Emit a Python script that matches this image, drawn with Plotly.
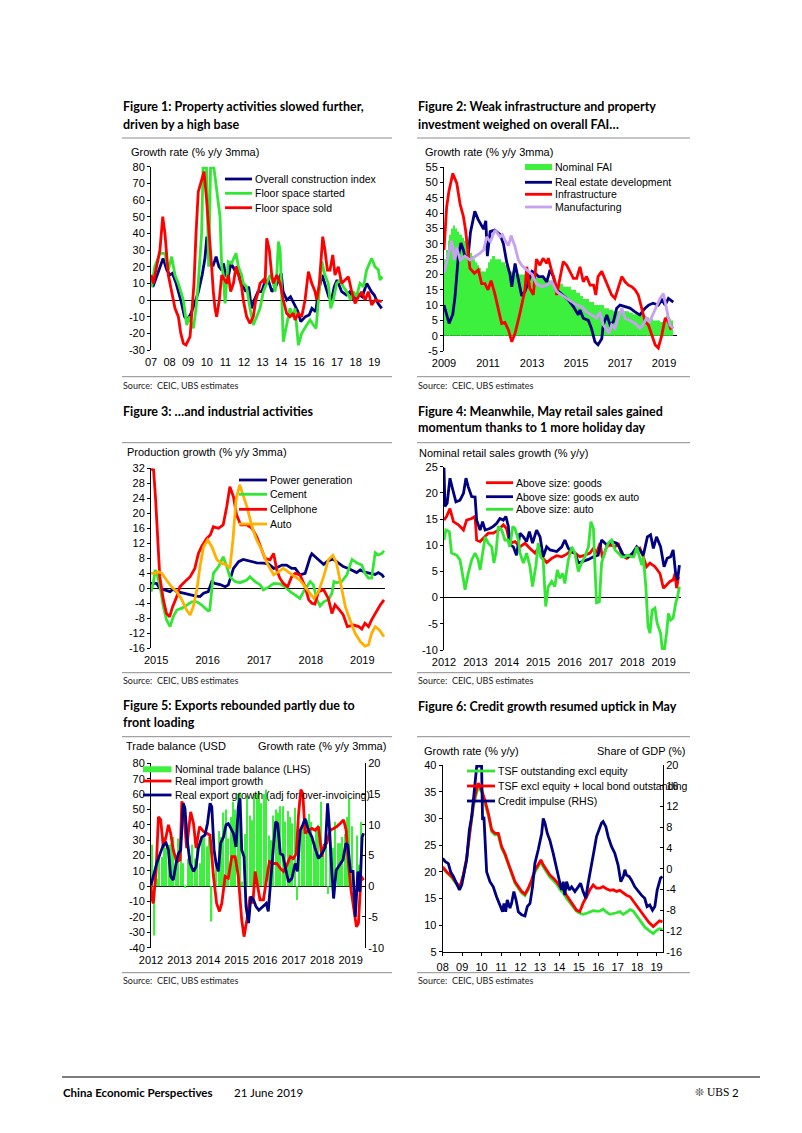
import plotly.graph_objects as go

# ============================ DATA ============================
# ---- Figure 1: property activities (% y/y 3mma) ----
f1_construction_x = [2007.0,2007.1,2007.3,2007.5,2007.65,2007.85,2008.0,2008.15,2008.35,2008.6,
    2008.8,2008.95,2009.15,2009.35,2009.55,2009.75,2009.9,2010.0,2010.1,2010.2,
    2010.35,2010.5,2010.65,2010.8,2010.9,2011.0,2011.15,2011.3,2011.5,2011.65,
    2011.8,2011.95,2012.1,2012.25,2012.4,2012.55,2012.75,2012.95,2013.1,2013.3,
    2013.5,2013.7,2013.85,2014.0,2014.1,2014.3,2014.5,2014.7,2014.9,2015.05,
    2015.3,2015.5,2015.65,2015.85,2016.0,2016.2,2016.35,2016.55,2016.7,2016.85,
    2017.0,2017.25,2017.5,2017.7,2017.9,2018.1,2018.35,2018.6,2018.85,2019.0,
    2019.2,2019.4]
f1_construction_y = [10,8,14,20,25,18,15,16,10,0,
    -10,-12,-8,-2,5,15,25,38,32,22,
    21,26,20,18,22,15,14,22,18,20,
    12,8,5,8,-5,0,5,5,10,12,
    5,8,12,16,5,0,2,-3,-7,-13,
    -10,-9,-5,-7,5,15,10,2,0,8,
    12,5,3,5,0,4,2,10,5,3,
    -2,-5]
f1_started_x = [2007.0,2007.04,2007.2,2007.48,2007.75,2007.93,2008.11,2008.29,2008.47,2008.74,
    2008.92,2009.06,2009.28,2009.42,2009.54,2009.72,2009.8,2009.98,2010.1,2010.2,
    2010.38,2010.49,2010.62,2010.71,2010.8,2010.89,2010.98,2011.15,2011.33,2011.57,
    2011.7,2011.87,2011.96,2012.14,2012.32,2012.5,2012.68,2012.86,2013.04,2013.22,
    2013.4,2013.58,2013.67,2013.76,2013.85,2013.94,2014.03,2014.11,2014.29,2014.47,
    2014.65,2014.74,2014.92,2015.1,2015.37,2015.55,2015.73,2015.87,2016.0,2016.18,
    2016.35,2016.53,2016.66,2016.8,2016.98,2017.16,2017.34,2017.52,2017.73,2017.87,
    2018.05,2018.23,2018.42,2018.59,2018.86,2019.04,2019.22,2019.31,2019.45]
f1_started_y = [10,8,20,28,28,18,26,15,10,0,
    -15,-10,-17,-5,10,40,79.5,79.5,20,79.5,
    79.5,70,60,50,20,15,-2,23,22,28,
    20,15,10,8,-5,-15,-10,-5,5,10,
    15,10,5,15,35,30,0,-25,-15,-5,
    -10,-5,-27,-20,-15,-12,-15,-17,0,23,
    15,10,-5,0,10,12,8,5,0,5,
    2,10,8,18,25,20,18,12,14]
f1_sold_x = [2007.0,2007.13,2007.3,2007.48,2007.63,2007.75,2007.93,2008.11,2008.29,2008.47,
    2008.6,2008.74,2008.88,2009.1,2009.19,2009.31,2009.42,2009.54,2009.67,2009.85,
    2009.99,2010.14,2010.26,2010.35,2010.44,2010.53,2010.67,2010.8,2010.98,2011.07,
    2011.16,2011.28,2011.43,2011.57,2011.7,2011.87,2011.96,2012.14,2012.32,2012.5,
    2012.63,2012.77,2012.86,2013.04,2013.13,2013.22,2013.36,2013.49,2013.58,2013.76,
    2013.94,2014.11,2014.29,2014.47,2014.65,2014.74,2014.92,2015.1,2015.28,2015.46,
    2015.64,2015.82,2015.91,2016.05,2016.23,2016.35,2016.48,2016.62,2016.77,2016.89,
    2017.07,2017.25,2017.43,2017.61,2017.79,2017.97,2018.15,2018.33,2018.51,2018.68,
    2018.86,2019.04,2019.4]
f1_sold_y = [15,10,20,30,50,40,15,5,-5,-10,
    -20,-26,-27,-22,-10,10,40,65,70,77,
    60,40,20,5,-5,-10,0,15,12,10,
    15,5,10,20,15,8,0,-10,-14,-10,
    0,5,10,12,10,37,30,15,10,15,
    10,0,-8,-10,-8,-12,-8,-10,0,17,
    10,5,0,10,38,30,18,18,27,15,
    20,10,12,14,5,-2,2,5,0,5,
    -3,0,-1]

# ---- Figure 2: FAI components (% y/y 3mma) ----
f2_fai_start = 2009  # monthly bars from Jan 2009 to May 2019
f2_fai = [25,28,31,33,35,36,35,34,33,33,32,31,
    30,28,27,26,25,24,23,22,21,21,21,22,
    24,25,26,26,25,25,25,24,24,23,23,22,
    21,21,20,20,20,20,20,20,20,20,20,20,
    20,20,19,19,19,19,19,18,18,18,18,18,
    17,17,17,17,17,16,16,16,16,15,15,15,
    14,14,13,13,12,12,12,11,11,11,10,10,
    10,10,10,9,9,9,8.5,8.5,8,8,8,8,
    8,8,8,8,8,7.5,7.5,7,7,7,7,7,
    6.5,6.5,6,6,5.5,5.5,5,5,5,5,4.5,4.5,
    6,6.5,6,5.5,5]
f2_realestate_x = [2009.0,2009.1,2009.23,2009.4,2009.5,2009.65,2009.77,2009.88,2009.95,2010.1,
    2010.2,2010.4,2010.55,2010.8,2010.9,2010.97,2011.1,2011.3,2011.55,2011.7,
    2011.85,2012.0,2012.08,2012.23,2012.38,2012.53,2012.68,2012.83,2013.0,2013.14,
    2013.3,2013.5,2013.67,2013.82,2013.97,2014.12,2014.42,2014.65,2014.88,2015.1,
    2015.18,2015.33,2015.56,2015.7,2015.86,2016.0,2016.17,2016.24,2016.4,2016.55,
    2016.7,2016.85,2017.0,2017.23,2017.45,2017.68,2017.9,2018.14,2018.3,2018.5,
    2018.74,2018.9,2019.05,2019.2,2019.42]
f2_realestate_y = [10,7,4,7,12.7,25.8,30.3,28,26,26,
    33.6,40.6,38,34.8,37.5,26,34,34.5,33,30,
    24,20,16,23.6,18,13,14.4,17.6,21,20.4,
    19.3,19.3,17.6,21.5,19.3,15,13.3,11.7,9.5,6.8,
    8.4,5.7,5,2.4,-2,-3,-1,3.5,6.8,3.5,
    4.6,9,10,9.5,9,7.8,6.8,9,10,10.6,
    10,11.7,10,12.2,11]
f2_infra_x = [2009.0,2009.12,2009.22,2009.4,2009.58,2009.73,2009.88,2009.98,2010.08,2010.18,
    2010.38,2010.56,2010.71,2010.86,2011.0,2011.14,2011.3,2011.47,2011.62,2011.77,
    2011.93,2012.08,2012.23,2012.45,2012.68,2012.76,2012.9,2013.06,2013.2,2013.36,
    2013.5,2013.67,2013.74,2013.9,2014.05,2014.12,2014.27,2014.42,2014.58,2014.73,
    2014.88,2015.03,2015.18,2015.33,2015.48,2015.64,2015.8,2015.9,2016.0,2016.17,
    2016.3,2016.47,2016.62,2016.77,2016.92,2017.08,2017.23,2017.38,2017.53,2017.68,
    2017.83,2017.98,2018.14,2018.29,2018.44,2018.6,2018.74,2018.9,2019.05,2019.2,
    2019.3,2019.42]
f2_infra_y = [28,42,47,53,49.8,43,39,34.5,28,22,
    20.4,21.5,17,17,15,18,14,8.4,4,4.3,
    1.9,-2,0.8,7.3,15,22.5,15.5,13.3,25,23,
    25.3,23.6,25.3,21,17.6,13.3,19.3,24.2,23,21,
    18.7,18.7,22.5,17.6,19.3,16.5,16.5,13.3,19.3,21,
    18.7,15.5,13.3,12.2,15.5,19.3,17.6,16.5,16,15,
    13.3,9,4.6,3.5,0.2,-3,-4,0.2,5.7,4.6,
    2.4,3]
f2_manuf_x = [2009.0,2009.2,2009.35,2009.47,2009.58,2009.73,2009.95,2010.18,2010.41,2010.64,
    2010.8,2010.94,2011.1,2011.32,2011.55,2011.65,2011.77,2011.93,2012.05,2012.23,
    2012.38,2012.53,2012.76,2013.0,2013.2,2013.44,2013.67,2013.9,2014.12,2014.35,
    2014.58,2014.8,2015.03,2015.26,2015.48,2015.7,2015.94,2016.09,2016.24,2016.4,
    2016.5,2016.62,2016.77,2016.92,2017.08,2017.23,2017.45,2017.68,2017.9,2018.05,
    2018.2,2018.35,2018.6,2018.82,2018.97,2019.12,2019.27,2019.42]
f2_manuf_y = [20.4,27,31,24.7,28.8,24.7,26,24.7,25.8,27,
    28,32.3,30.6,34.5,32.3,33,31.2,29.4,32.7,29,
    24.7,23,21.5,20,17,16,16.5,17.6,14.4,13.3,
    12.2,11,10,9.5,7.8,6.8,5.7,7.8,3.5,1.9,
    0.8,3.5,2.4,5.7,9,5.7,5,4,2.4,3.5,
    5.7,4.6,8.4,12.2,13.8,9,3.5,2.4]

# ---- Figure 3: industrial production (% y/y 3mma) ----
f3_power_x = [2014.9,2015.01,2015.07,2015.17,2015.27,2015.33,2015.4,2015.53,2015.66,2015.75,
    2015.85,2015.92,2016.01,2016.08,2016.14,2016.24,2016.34,2016.4,2016.5,2016.6,
    2016.69,2016.82,2016.95,2017.08,2017.18,2017.28,2017.34,2017.44,2017.53,2017.63,
    2017.7,2017.79,2017.89,2017.99,2018.02,2018.15,2018.25,2018.34,2018.43,2018.54,
    2018.63,2018.73,2018.8,2018.89,2018.96,2019.05,2019.15,2019.25,2019.31,2019.38,2019.42]
f3_power_y = [1.3,1.3,0,-0.4,-0.9,-0.2,-0.9,-1.3,-1.8,-2,
    -2.2,-1.3,-0.9,1.8,1.3,1,0.4,0.9,5.3,7.1,
    7.7,7.3,6.8,6.7,6.5,5.3,5.5,6.2,6.2,5.3,
    5.3,3.6,4,8.4,9.2,7.6,6.4,7.4,7.8,6.7,
    5.8,5.3,4.9,4.2,4.9,4.3,4,3.7,4.2,3.6,2.9]
f3_cement_x = [2014.9,2014.95,2014.98,2015.02,2015.07,2015.14,2015.2,2015.27,2015.33,2015.4,
    2015.5,2015.59,2015.69,2015.79,2015.88,2015.95,2016.01,2016.04,2016.11,2016.21,
    2016.3,2016.37,2016.43,2016.53,2016.63,2016.76,2016.82,2016.92,2017.02,2017.08,
    2017.18,2017.28,2017.4,2017.5,2017.6,2017.7,2017.79,2017.86,2017.92,2017.99,
    2018.05,2018.12,2018.18,2018.25,2018.34,2018.41,2018.45,2018.5,2018.6,2018.7,
    2018.8,2018.89,2018.99,2019.05,2019.12,2019.18,2019.25,2019.31,2019.38,2019.42]
f3_cement_y = [-0.9,1.8,4.9,3.6,0.9,-4.9,-8.4,-10.2,-7.6,-5.8,
    -5.3,-4.4,-3.6,-3.6,-4.4,-5.3,-6,-5.8,4,5.8,
    8.4,5.8,3.1,1.8,1.5,2.2,3.1,1.8,0.9,-0.4,
    0.3,1.3,1.2,0.4,-0.9,-1.8,-2.7,-0.9,0.4,1.8,
    0.9,-3.1,-4.7,-3.6,-3.1,-1.3,1.8,1.5,1.8,3.6,
    7.7,6.8,6.2,4,2.7,2.7,9.5,8.9,9.3,10]
f3_cellphone_x = [2014.9,2014.95,2014.99,2015.04,2015.07,2015.14,2015.2,2015.26,2015.32,2015.4,
    2015.46,2015.56,2015.66,2015.75,2015.82,2015.88,2015.98,2016.05,2016.11,2016.21,
    2016.3,2016.37,2016.43,2016.5,2016.56,2016.64,2016.76,2016.86,2016.95,2017.05,
    2017.11,2017.21,2017.28,2017.34,2017.4,2017.47,2017.55,2017.63,2017.7,2017.79,
    2017.89,2017.96,2018.02,2018.08,2018.15,2018.25,2018.34,2018.41,2018.47,2018.56,
    2018.63,2018.71,2018.83,2018.93,2018.99,2019.05,2019.12,2019.18,2019.25,2019.35,2019.42]
f3_cellphone_y = [31.8,31.6,23.6,11.1,3.1,-3.1,-6.7,-7.6,-4.9,-2.2,
    0.4,1.8,3.1,5.3,9.3,11.1,13.3,14.2,16.4,16,
    16.9,21.8,27.1,24.4,19.6,16.9,16.9,16,13.8,10.2,
    8,7.6,9.3,4.9,2.7,1.3,0.4,3.1,4,3.6,
    0.4,-3.1,-4,-4.2,-0.9,-0.4,-2.7,-6.7,-4.4,-5.8,
    -7.1,-10.2,-9.8,-10.2,-10.9,-9.3,-10.2,-8.4,-6.7,-4.4,-3.1]
f3_auto_x = [2014.9,2014.98,2015.04,2015.11,2015.2,2015.3,2015.4,2015.5,2015.59,2015.66,
    2015.72,2015.79,2015.85,2015.92,2016.0,2016.08,2016.18,2016.27,2016.37,2016.43,
    2016.49,2016.55,2016.62,2016.69,2016.76,2016.86,2016.95,2017.05,2017.15,2017.28,
    2017.37,2017.47,2017.6,2017.7,2017.79,2017.89,2017.99,2018.06,2018.15,2018.25,
    2018.34,2018.43,2018.5,2018.58,2018.67,2018.76,2018.86,2018.96,2019.05,2019.12,
    2019.18,2019.25,2019.33,2019.42]
f3_auto_y = [4,4,4.4,4,2.2,0.4,-0.9,-3.1,-5.8,-7.1,
    -4.9,-0.4,5.8,11.1,12.9,11.1,7.6,6.7,6.2,5.3,
    12.9,23.6,27.6,24.4,21.8,16.4,12.9,10.2,6.7,3.6,
    4.4,5.3,4,3.1,2.2,0.4,-1.3,-2.7,-0.9,3.1,
    7.6,8.8,6.7,1.3,-4.9,-8.4,-12,-14.2,-15.4,-15.1,
    -12,-10.2,-11.1,-12.9]

# ---- Figure 4: nominal retail sales (% y/y) ----
f4_goods_x = [2012.0,2012.08,2012.19,2012.3,2012.46,2012.62,2012.72,2012.88,2012.99,2013.04,
    2013.15,2013.25,2013.41,2013.57,2013.73,2013.89,2013.99,2014.1,2014.26,2014.42,
    2014.58,2014.74,2014.9,2015.0,2015.11,2015.27,2015.43,2015.59,2015.75,2015.91,
    2016.01,2016.17,2016.33,2016.49,2016.65,2016.76,2016.86,2016.97,2017.05,2017.18,
    2017.29,2017.45,2017.55,2017.66,2017.82,2017.98,2018.14,2018.24,2018.35,2018.45,
    2018.56,2018.72,2018.88,2018.99,2019.09,2019.2,2019.3,2019.36,2019.41,2019.47]
f4_goods_y = [14.8,15.5,17,14.5,13.9,12.9,14.8,15.1,15.5,11,
    10.7,11.3,12.3,12.3,12.9,13.9,13.2,10.4,10.7,9.7,
    10.4,9.4,8.5,9.4,7.8,6.7,7.5,8,7.8,8.3,
    8.8,8.5,7.8,8.1,8.5,9.4,8.5,10.4,7.5,9.7,
    10.1,9.7,10.4,8.1,7.5,8.1,8.8,9.4,7.8,5.9,
    6.6,5.9,4.6,1.8,2.4,3.1,3.4,4.6,1.8,4]
f4_exauto_x = [2012.0,2012.03,2012.1,2012.19,2012.28,2012.38,2012.51,2012.62,2012.7,2012.77,
    2012.88,2012.99,2013.04,2013.15,2013.23,2013.31,2013.46,2013.57,2013.68,2013.78,
    2013.89,2013.97,2014.05,2014.1,2014.21,2014.31,2014.42,2014.53,2014.63,2014.72,
    2014.82,2014.95,2015.06,2015.16,2015.27,2015.38,2015.59,2015.75,2015.85,2015.96,
    2016.07,2016.17,2016.28,2016.44,2016.6,2016.76,2016.91,2017.02,2017.18,2017.34,
    2017.5,2017.61,2017.71,2017.87,2018.01,2018.14,2018.24,2018.35,2018.48,2018.58,
    2018.67,2018.77,2018.9,2019.01,2019.11,2019.22,2019.3,2019.38,2019.44,2019.5]
f4_exauto_y = [24.8,17.4,18,22.8,20.6,18.3,18.6,19.9,22.8,21.2,
    19.3,19.2,14.8,12.9,14.5,12.9,13.2,13.6,14.2,15.1,
    14.8,15.5,13.6,10.1,9.7,8.1,12.3,11.6,10.7,12.6,
    10.4,12.9,11.6,7.8,9.7,9.1,8.8,9.7,11,9.4,
    8.8,8.5,6.6,6.9,7.3,7.8,8.1,11,10.1,10.7,
    10.4,9.4,8.1,7.8,8.5,9.7,9.1,8.1,11.6,12,
    9.4,11.6,9.7,5.9,7.5,7.8,9.1,4.6,3.4,6.2]
f4_auto_x = [2012.0,2012.06,2012.17,2012.24,2012.4,2012.51,2012.62,2012.67,2012.77,2012.88,
    2012.99,2013.09,2013.15,2013.25,2013.31,2013.41,2013.52,2013.59,2013.66,2013.73,
    2013.84,2013.94,2014.03,2014.1,2014.19,2014.26,2014.37,2014.42,2014.53,2014.63,
    2014.74,2014.82,2014.93,2015.0,2015.08,2015.16,2015.24,2015.32,2015.43,2015.53,
    2015.61,2015.69,2015.78,2015.85,2015.96,2016.07,2016.17,2016.28,2016.38,2016.49,
    2016.6,2016.68,2016.76,2016.81,2016.86,2016.95,2017.02,2017.13,2017.23,2017.34,
    2017.45,2017.55,2017.66,2017.76,2017.87,2017.98,2018.05,2018.14,2018.22,2018.3,
    2018.35,2018.43,2018.5,2018.56,2018.63,2018.72,2018.79,2018.86,2018.9,2018.95,
    2019.02,2019.09,2019.15,2019.22,2019.3,2019.38,2019.44,2019.5]
f4_auto_y = [11,12.9,12.6,8.5,8.1,7.2,3.4,1.5,4.6,7.2,
    8.5,7.2,5.3,9.1,11.6,10.4,9.7,6.6,8.8,13.6,
    12.9,11,11,9.7,13.6,13.2,11,8.5,6.6,8.5,
    5.9,2.1,6.2,10.4,7.8,7.2,-1.7,2.1,3.1,2.1,
    5.3,3.7,4.6,2.7,7.2,9.7,8.5,5,6.6,7.8,
    9.7,14.5,13.2,5.6,-1,-0.8,6.6,8.8,10.4,11,
    9.1,8.5,7.8,7.8,8.1,7.8,7.8,9.7,8.1,6.2,
    7.8,2.1,-5.5,-6.8,-2.4,-2,-4.9,-6.2,-6.8,-9.7,
    -10,-6.8,-3,-4.3,-3.9,-1.1,0.2,2.1]

# ---- Figure 5: trade ----
f5_balance_start = 2012  # monthly bars, USD bn, Jan 2012 to May 2019
f5_balance = [27,-32,5,18,19,32,25,27,28,32,20,31,
    29,15,-1,18,20,27,18,29,15,31,34,26,
    32,-23,8,18,36,32,48,50,31,45,55,50,
    60,61,3,34,59,46,43,60,60,62,54,60,
    63,33,30,46,50,48,52,52,42,49,45,41,
    51,-9,24,38,41,43,47,42,28,38,40,55,
    20,34,-5,29,25,42,28,28,32,34,45,57,
    39,4,33,14,42]
f5_import_x = [2012.0,2012.04,2012.08,2012.18,2012.26,2012.34,2012.43,2012.53,2012.61,2012.69,
    2012.78,2012.9,2013.02,2013.08,2013.13,2013.25,2013.39,2013.49,2013.58,2013.7,
    2013.84,2013.98,2014.07,2014.19,2014.3,2014.4,2014.48,2014.6,2014.71,2014.83,
    2014.95,2015.06,2015.18,2015.26,2015.36,2015.47,2015.57,2015.65,2015.73,2015.82,
    2015.94,2016.06,2016.15,2016.29,2016.41,2016.53,2016.64,2016.76,2016.88,2016.99,
    2017.09,2017.17,2017.25,2017.32,2017.4,2017.52,2017.64,2017.75,2017.87,2017.99,
    2018.07,2018.16,2018.28,2018.4,2018.51,2018.63,2018.75,2018.84,2018.92,2019.01,
    2019.1,2019.2,2019.27,2019.36,2019.45]
f5_import_y = [0.2,-2.2,-2.8,2.6,11.3,10.8,6.4,8.1,10,8.6,
    5.9,4,4.3,13.8,13.2,6.2,12.1,10.2,6.2,9.7,
    8.9,8.6,8.3,1.6,-2.8,-4.1,-2.8,1.6,1.3,4.8,
    4.8,1.6,-5.5,-8.2,-5.5,-1.7,-2.8,2.4,0.2,-2.2,
    -2.2,1.6,4,3.7,3.7,2.9,2.4,3.4,4.8,4.5,
    5.3,11.6,15.7,15.1,8.6,9.1,9.4,9.1,9.7,4.8,
    6.7,7,9.1,9.4,9.7,10.2,10.8,9.1,3.7,-0.6,
    -3.6,-6.6,-6,1.6,1]
f5_export_x = [2012.0,2012.08,2012.2,2012.32,2012.43,2012.53,2012.61,2012.69,2012.78,2012.88,
    2012.96,2013.04,2013.13,2013.19,2013.27,2013.37,2013.49,2013.58,2013.66,2013.78,
    2013.89,2013.98,2014.07,2014.13,2014.21,2014.28,2014.36,2014.44,2014.54,2014.63,
    2014.71,2014.8,2014.89,2014.98,2015.06,2015.12,2015.18,2015.26,2015.33,2015.42,
    2015.5,2015.59,2015.68,2015.78,2015.85,2015.94,2016.04,2016.11,2016.2,2016.29,
    2016.37,2016.44,2016.53,2016.62,2016.7,2016.82,2016.94,2017.05,2017.13,2017.23,
    2017.32,2017.4,2017.52,2017.64,2017.75,2017.87,2017.99,2018.11,2018.19,2018.26,
    2018.34,2018.4,2018.49,2018.61,2018.73,2018.83,2018.9,2018.99,2019.08,2019.16,
    2019.25,2019.32,2019.4,2019.45]
f5_export_y = [0.2,1.6,3.7,5.3,6.7,7,5.9,1.6,1,3.7,
    5.3,5.9,13.5,12.7,7.5,3.7,2.4,3.2,6.2,8,
    8.3,10.2,13.5,12.9,5.9,3.7,2.4,7,8,10,
    10.2,9.4,8.6,6.4,12.9,14.3,5.9,4.8,-3.3,-6,
    -1.7,-2.2,-3.3,-3.9,-3.6,-3.3,-2.8,-4.1,1.6,6.4,
    10.5,10.2,5.3,5.1,3.2,0.7,1.3,3.7,2.4,9.1,
    10,11,9.1,8,6.2,4.5,5.3,6.4,13.5,9.1,
    2.1,-2,2.6,3.4,4.3,7,6.7,2.4,2.4,-5,
    2.4,-0.9,8,8.6]

# ---- Figure 6: credit ----
f6_tsf_x = [2008.0,2008.2,2008.46,2008.72,2008.89,2009.06,2009.23,2009.37,2009.49,2009.58,
    2009.71,2009.83,2010.0,2010.17,2010.35,2010.52,2010.69,2010.86,2011.03,2011.2,
    2011.37,2011.54,2011.72,2011.89,2012.06,2012.23,2012.4,2012.57,2012.74,2012.91,
    2013.05,2013.17,2013.34,2013.51,2013.68,2013.86,2014.03,2014.2,2014.37,2014.54,
    2014.71,2014.88,2015.05,2015.22,2015.4,2015.57,2015.74,2015.91,2016.08,2016.25,
    2016.42,2016.6,2016.77,2016.94,2017.11,2017.28,2017.45,2017.64,2017.8,2018.0,
    2018.2,2018.4,2018.6,2018.83,2019.0,2019.15,2019.3]
f6_tsf_excl_equity = [20.6,19.8,18.9,17.6,17.0,19.2,22.2,26.5,30.4,32.2,
    34.3,35.8,35.0,33.0,30.5,27.5,26.9,26.9,24.4,23.1,
    21.3,19.4,17.8,16.9,16.0,15.5,16.6,18.1,19.9,20.9,
    21.8,20.9,19.9,19.0,18.4,17.7,16.7,16.0,15.0,14.2,
    13.3,12.6,12.2,12.0,12.2,12.4,12.7,12.6,12.6,13.0,
    12.4,12.0,12.1,12.3,12.5,12.0,12.4,12.9,12.6,11.6,
    10.6,9.6,9.0,8.4,9.0,9.3,9.2]
f6_tsf_plus_bond = [20.9,20,19.1,17.8,17.2,19.4,22.5,26.9,30.9,32.8,
    35,36.6,35.3,33.4,30.9,27.8,27.2,27.2,24.7,23.4,
    21.6,19.7,18.1,17.2,16.3,15.8,16.9,18.4,20.3,21.3,
    22.2,21.3,20.3,19.4,18.8,18.1,17.2,16.6,15.6,14.7,
    13.8,12.8,12.5,14.1,15.3,16.6,17.5,16.9,16.9,17.2,
    16.8,16.5,16.6,16.3,16.5,16,15.6,15.3,14.5,13.5,
    12.5,11.5,10.5,9.7,10.3,10.8,10.6]
f6_impulse_x = [2008.0,2008.12,2008.29,2008.41,2008.55,2008.72,2008.86,2008.98,2009.1,2009.23,
    2009.37,2009.49,2009.58,2009.68,2009.75,2010.0,2010.05,2010.12,2010.17,2010.26,
    2010.43,2010.6,2010.77,2010.95,2011.08,2011.15,2011.24,2011.32,2011.46,2011.54,
    2011.66,2011.77,2011.89,2012.06,2012.23,2012.35,2012.49,2012.62,2012.74,2012.91,
    2013.09,2013.17,2013.26,2013.38,2013.51,2013.68,2013.86,2013.99,2014.11,2014.2,
    2014.28,2014.37,2014.51,2014.63,2014.8,2014.97,2015.09,2015.22,2015.36,2015.48,
    2015.65,2015.79,2015.91,2016.05,2016.17,2016.25,2016.39,2016.51,2016.68,2016.85,
    2017.02,2017.16,2017.29,2017.37,2017.45,2017.59,2017.71,2017.88,2018.05,2018.22,
    2018.39,2018.51,2018.65,2018.79,2018.91,2019.03,2019.13,2019.2,2019.3]
f6_impulse_y = [2,1.4,1,-0.6,-1.5,-2.8,-4.1,-3.1,-0.6,1.7,
    7.5,10,13.3,17.8,19.8,19.8,9.4,10,6.8,-0.6,
    -2.5,-3.5,-5.4,-7.3,-8.3,-6.7,-8.3,-6,-7.6,-6.7,
    -4.4,-6,-8.3,-8.9,-9.1,-7.3,-6.7,-3.5,1,3.6,
    6.8,9.7,8.8,6.8,5.5,3,-0.2,-2.2,-4.1,-2.5,
    -5.1,-2.5,-4.1,-3.5,-4.4,-3.5,-2.8,-4.4,-5.7,-2.8,
    0.4,3.6,6.2,7.5,8.8,9.1,8.1,6.2,4.3,3,
    0.7,-2.5,-1.5,-0.2,-1.2,-1.5,-2.2,-3.5,-4.4,-5.1,
    -5.7,-7.3,-7,-8,-7.3,-4.1,-2.8,-1.8,-1.5]

# tick labels
f1_years = list(range(2007, 2020))
f2_years = list(range(2009, 2020, 2))
f3_years = list(range(2015, 2020))
f45_years = list(range(2012, 2020))
f6_years = list(range(2008, 2020))

pairs = [(f1_construction_x, f1_construction_y), (f1_started_x, f1_started_y), (f1_sold_x, f1_sold_y),
         (f2_realestate_x, f2_realestate_y), (f2_infra_x, f2_infra_y), (f2_manuf_x, f2_manuf_y),
         (f3_power_x, f3_power_y), (f3_cement_x, f3_cement_y), (f3_cellphone_x, f3_cellphone_y),
         (f3_auto_x, f3_auto_y), (f4_goods_x, f4_goods_y), (f4_exauto_x, f4_exauto_y),
         (f4_auto_x, f4_auto_y), (f5_import_x, f5_import_y), (f5_export_x, f5_export_y),
         (f6_tsf_x, f6_tsf_excl_equity), (f6_tsf_x, f6_tsf_plus_bond), (f6_impulse_x, f6_impulse_y)]
for i, (a, b) in enumerate(pairs):
    assert len(a) == len(b), (i, len(a), len(b))

# ============================ STYLE ============================
W, H = 802, 1133
CHART_FONT = "Liberation Sans, Arial, sans-serif"
TEXT_FONT = "Lato, Open Sans, sans-serif"
NAVY = "#000080"
GREEN = "#33E633"
BAR_GREEN = "#3DF03D"
RED = "#FF0000"
LILAC = "#C8A2F0"
ORANGE = "#FFB000"
LW = 2.8


def fx(p):
    return p / W


def fy(p):
    return 1 - p / H


# plot boxes: left, top, right, bottom (px)
BOX = {1: (151, 166.7, 383, 350), 2: (444, 167.3, 677, 351), 3: (151, 468.3, 385, 648.3),
       4: (444, 466.7, 681, 650), 5: (151, 763.3, 365, 947.7), 6: (442.7, 765, 663, 951.7)}

fig = go.Figure()


def add_line(x, y, color, xa, ya):
    fig.add_trace(go.Scatter(x=x, y=y, mode="lines", line=dict(color=color, width=LW),
                             xaxis=xa, yaxis=ya, showlegend=False, hoverinfo="skip"))


def monthly_x(start, n):
    return [start + (i + 0.5) / 12 for i in range(n)]


# Figure 1
add_line(f1_construction_x, f1_construction_y, NAVY, "x", "y")
add_line(f1_started_x, f1_started_y, GREEN, "x", "y")
add_line(f1_sold_x, f1_sold_y, RED, "x", "y")
# Figure 2
fig.add_trace(go.Bar(x=monthly_x(f2_fai_start, len(f2_fai)), y=f2_fai, width=0.6 / 12,
                     marker=dict(color=BAR_GREEN, line=dict(width=0)), xaxis="x2", yaxis="y2",
                     showlegend=False, hoverinfo="skip"))
add_line(f2_realestate_x, f2_realestate_y, NAVY, "x2", "y2")
add_line(f2_infra_x, f2_infra_y, RED, "x2", "y2")
add_line(f2_manuf_x, f2_manuf_y, LILAC, "x2", "y2")
# Figure 3
add_line(f3_power_x, f3_power_y, NAVY, "x3", "y3")
add_line(f3_cement_x, f3_cement_y, GREEN, "x3", "y3")
add_line(f3_cellphone_x, f3_cellphone_y, RED, "x3", "y3")
add_line(f3_auto_x, f3_auto_y, ORANGE, "x3", "y3")
# Figure 4
add_line(f4_goods_x, f4_goods_y, RED, "x4", "y4")
add_line(f4_exauto_x, f4_exauto_y, NAVY, "x4", "y4")
add_line(f4_auto_x, f4_auto_y, GREEN, "x4", "y4")
# Figure 5
fig.add_trace(go.Bar(x=monthly_x(f5_balance_start, len(f5_balance)), y=f5_balance, width=0.55 / 12,
                     marker=dict(color=BAR_GREEN, line=dict(width=0)), xaxis="x5", yaxis="y5",
                     showlegend=False, hoverinfo="skip"))
add_line(f5_import_x, f5_import_y, RED, "x5", "y7")
add_line(f5_export_x, f5_export_y, NAVY, "x5", "y7")
# Figure 6
add_line(f6_tsf_x, f6_tsf_excl_equity, GREEN, "x6", "y6")
add_line(f6_tsf_x, f6_tsf_plus_bond, RED, "x6", "y6")
add_line(f6_impulse_x, f6_impulse_y, NAVY, "x6", "y8")


def xcfg(n, rng, vals, texts, anchor, bottom=False):
    l, t, r, b = BOX[n]
    return dict(domain=[fx(l), fx(r)], range=rng, tickvals=vals, ticktext=texts, anchor=anchor,
                showgrid=False, zeroline=False, showline=bottom, linecolor="black", linewidth=1,
                ticks="outside" if bottom else "", ticklen=3, tickcolor="black",
                tickfont=dict(size=11, color="black"), ticklabelstandoff=2 if bottom else 4,
                fixedrange=True, automargin=False)


def zero_tick_axis(n, rng, yrng, vals, over):
    # category-axis tick marks sitting on the zero line
    l, t, r, b = BOX[n]
    pos = fy(b) + (0 - yrng[0]) / (yrng[1] - yrng[0]) * (fy(t) - fy(b))
    return dict(overlaying=over, anchor="free", position=pos, range=rng, tickvals=vals,
                showticklabels=False, ticks="outside", ticklen=3, tickcolor="black",
                showline=False, showgrid=False, zeroline=False, fixedrange=True, automargin=False)


def ycfg(n, rng, step, anchor, side="left", overlay=None, zero=True):
    l, t, r, b = BOX[n]
    vals = []
    v = rng[0]
    while v <= rng[1] + 1e-9:
        vals.append(v)
        v += step
    d = dict(domain=[fy(b), fy(t)], range=rng, tickvals=vals, ticktext=[str(int(v)) for v in vals],
             anchor=anchor, side=side, showgrid=False, zeroline=zero, zerolinecolor="black",
             zerolinewidth=1, showline=True, linecolor="black", linewidth=1,
             ticks="outside" if side == "left" else "inside",
             ticklen=3, tickcolor="black", tickfont=dict(size=11, color="black"), fixedrange=True,
             automargin=False)
    if overlay:
        d["overlaying"] = overlay
    return d


R1, Y1 = [2007, 2019.47], [-30, 80]
R2, Y2 = [2009, 2019.59], [-5, 55]
R3, Y3 = [2014.9, 2019.44], [-16, 32]
R4, Y4 = [2012, 2019.55], [-10, 25]
R5, Y5 = [2012, 2019.5], [-40, 80]

fig.update_layout(
    xaxis=xcfg(1, R1, f1_years, ["%02d" % (y % 100) for y in f1_years], "y"),
    yaxis=ycfg(1, Y1, 10, "x"),
    xaxis2=xcfg(2, R2, f2_years, [str(y) for y in f2_years], "y2"),
    yaxis2=ycfg(2, Y2, 5, "x2"),
    xaxis3=xcfg(3, R3, f3_years, [str(y) for y in f3_years], "y3"),
    yaxis3=ycfg(3, Y3, 4, "x3"),
    xaxis4=xcfg(4, R4, f45_years, [str(y) for y in f45_years], "y4"),
    yaxis4=ycfg(4, Y4, 5, "x4"),
    xaxis5=xcfg(5, R5, f45_years, [str(y) for y in f45_years], "y5"),
    yaxis5=ycfg(5, Y5, 10, "x5"),
    yaxis7=ycfg(5, [-10, 20], 5, "x5", side="right", overlay="y5", zero=False),
    xaxis6=xcfg(6, [2008, 2019.33], f6_years, ["%02d" % (y % 100) for y in f6_years], "y6", bottom=True),
    yaxis6=ycfg(6, [5, 40], 5, "x6", zero=False),
    yaxis8=ycfg(6, [-16, 20], 4, "x6", side="right", overlay="y6", zero=False),
    xaxis11=zero_tick_axis(1, R1, Y1, f1_years, "x"),
    xaxis12=zero_tick_axis(2, R2, Y2, list(range(2009, 2020)), "x2"),
    xaxis13=zero_tick_axis(3, R3, Y3, f3_years, "x3"),
    xaxis14=zero_tick_axis(4, R4, Y4, f45_years, "x4"),
    xaxis15=zero_tick_axis(5, R5, Y5, f45_years, "x5"),
)

ann = []
shapes = []


def text(x, y, s, size=11, family=CHART_FONT, anchor="left", color="black"):
    ann.append(dict(x=fx(x), y=fy(y), xref="paper", yref="paper", text=s, showarrow=False,
                    xanchor=anchor, yanchor="middle", borderpad=0, align="left",
                    font=dict(size=size, family=family, color=color)))


def hline(x0, x1, y, color="#8c8c8c", width=1):
    shapes.append(dict(type="line", xref="paper", yref="paper", x0=fx(x0), x1=fx(x1), y0=fy(y), y1=fy(y),
                       line=dict(color=color, width=width)))


def legend_line(x0, x1, y, color, label):
    shapes.append(dict(type="line", xref="paper", yref="paper", x0=fx(x0), x1=fx(x1), y0=fy(y), y1=fy(y),
                       line=dict(color=color, width=LW)))
    text(x1 + 2, y, label, size=10.5)


def legend_box(x0, x1, y, color, label):
    shapes.append(dict(type="rect", xref="paper", yref="paper", x0=fx(x0), x1=fx(x1), y0=fy(y + 3),
                       y1=fy(y - 3), line=dict(width=0), fillcolor=color))
    text(x1 + 2, y, label, size=10.5)


TS = 12.5
# ---- titles, rules, sources ----
text(122, 107, "<b>Figure 1: Property activities slowed further,</b>", TS, TEXT_FONT)
text(122, 124, "<b>driven by a high base</b>", TS, TEXT_FONT)
text(417, 107, "<b>Figure 2: Weak infrastructure and property</b>", TS, TEXT_FONT)
text(417, 124, "<b>investment weighed on overall FAI\u2026</b>", TS, TEXT_FONT)
text(122, 411, "<b>Figure 3: \u2026and industrial activities</b>", TS, TEXT_FONT)
text(417, 411, "<b>Figure 4: Meanwhile, May retail sales gained</b>", TS, TEXT_FONT)
text(417, 427.5, "<b>momentum thanks to 1 more holiday day</b>", TS, TEXT_FONT)
text(122, 705, "<b>Figure 5: Exports rebounded partly due to</b>", TS, TEXT_FONT)
text(122, 722, "<b>front loading</b>", TS, TEXT_FONT)
text(417, 706.5, "<b>Figure 6: Credit growth resumed uptick in May</b>", TS, TEXT_FONT)

for (xa, xb) in [(122, 392), (417, 690)]:
    for y in (138, 376.7, 442.7, 672.7, 736.7, 972.7):
        hline(xa, xb, y)
for (xs, y) in [(122, 385), (417, 385), (122, 680), (417, 680), (122, 980.7), (417, 980.7)]:
    text(xs, y, "Source:&nbsp; CEIC, UBS estimates", 9, TEXT_FONT, color="#222")

# ---- axis titles ----
text(130, 152, "Growth rate (% y/y 3mma)")
text(424, 152, "Growth rate (% y/y 3mma)")
text(126, 452, "Production growth (% y/y 3mma)")
text(418, 453, "Nominal retail sales growth (% y/y)")
text(125, 746, "Trade balance (USD")
text(387, 746, "Growth rate (% y/y 3mma)", anchor="right")
text(423, 751, "Growth rate (% y/y)")
text(686, 751, "Share of GDP (%)", anchor="right")

# ---- legends ----
legend_line(225, 252, 179, NAVY, "Overall construction index")
legend_line(225, 252, 193.3, GREEN, "Floor space started")
legend_line(225, 252, 207.7, RED, "Floor space sold")

legend_box(525, 552, 167, BAR_GREEN, "Nominal FAI")
legend_line(525, 552, 182.3, NAVY, "Real estate development")
legend_line(525, 552, 194.3, RED, "Infrastructure")
legend_line(525, 552, 207, LILAC, "Manufacturing")

legend_line(239, 267, 480, NAVY, "Power generation")
legend_line(239, 267, 494.3, GREEN, "Cement")
legend_line(239, 267, 509.3, RED, "Cellphone")
legend_line(239, 267, 524, ORANGE, "Auto")

legend_line(486, 513, 482.7, RED, "Above size: goods")
legend_line(486, 513, 496.7, NAVY, "Above size: goods ex auto")
legend_line(486, 513, 509.3, GREEN, "Above size: auto")

legend_box(143, 171.5, 769.3, BAR_GREEN, "Nominal trade balance (LHS)")
legend_line(143, 171.5, 781, RED, "Real import growth")
legend_line(143, 171.5, 795, NAVY, "Real export growth (adj for over-invoicing)")

legend_line(467, 495, 771, GREEN, "TSF outstanding excl equity")
legend_line(467, 495, 786, RED, "TSF excl equity + local bond outstanding")
legend_line(467, 495, 801, NAVY, "Credit impulse (RHS)")

# ---- footer ----
hline(62, 760, 1077, color="#555555", width=1.3)
text(62, 1092, "<b>China Economic Perspectives</b>", 11.5, TEXT_FONT)
text(233, 1092, "21 June 2019", 11.5, TEXT_FONT)
text(705, 1092, "\u274a", 11, "DejaVu Sans", anchor="right", color="#333")
text(706, 1092, "UBS", 11.5, "Liberation Serif, serif")
text(740, 1092, "2", 11.5, TEXT_FONT, anchor="right")

fig.update_layout(
    width=W, height=H, autosize=False,
    margin=dict(l=0, r=0, t=0, b=0, pad=0, autoexpand=False),
    paper_bgcolor="white", plot_bgcolor="white",
    font=dict(family=CHART_FONT, size=11, color="black"),
    annotations=ann, shapes=shapes, showlegend=False,
)

fig.write_html("out.html", config={"displayModeBar": False, "responsive": False},
               post_script="document.body.style.margin='0';document.body.style.padding='0';"
                           "document.body.style.overflow='hidden';")
